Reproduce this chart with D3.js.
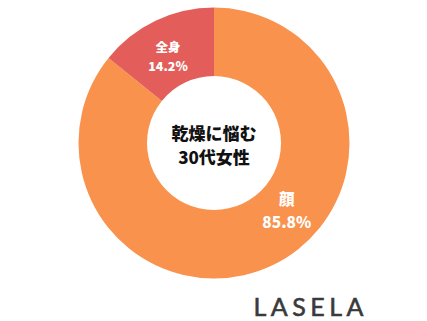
<!DOCTYPE html>
<html>
<head>
<meta charset="utf-8">
<script src="https://cdn.jsdelivr.net/npm/d3@7"></script>
<style>
  body { margin: 0; background: #fff; }
  text { font-family: "Noto Sans CJK JP", "Noto Sans", sans-serif; }
</style>
</head>
<body>
<div id="chart_div"></div>
<script>
// data
const categories = ["顔", "全身"];
const values = [85.8, 14.2];
const colors = ["#F9924D", "#E35E5A"];
const centerLines = ["乾燥に悩む", "30代女性"];
const brand = "LASELA";

const width = 427, height = 321;
const cx = 214, cy = 143;
const outerR = 135.5, innerR = 67;

const svg = d3.select("#chart_div")
  .append("svg")
  .attr("width", width)
  .attr("height", height)
  .attr("viewBox", `0 0 ${width} ${height}`);

const g = svg.append("g")
  .attr("transform", `translate(${cx},${cy})`);

const data = categories.map((c, i) => ({ name: c, value: values[i], color: colors[i] }));

const pie = d3.pie()
  .value(d => d.value)
  .sort(null);

const arc = d3.arc()
  .innerRadius(innerR)
  .outerRadius(outerR);

const arcs = pie(data);

// slices
g.selectAll("path.slice")
  .data(arcs)
  .join("path")
    .attr("class", "slice")
    .attr("d", arc)
    .attr("fill", d => d.data.color);

// slice labels: small slice near its middle, big slice pushed toward lower right
const labelR = 98.5;
const labelAngle = d => d.index === 0 ? 2.31 : (d.startAngle + d.endAngle) / 2 - 0.04;
const labelSize = d => d.index === 0 ? 15.5 : 12.5;

const labels = g.selectAll("g.label")
  .data(arcs)
  .join("g")
    .attr("class", "label")
    .attr("transform", d => {
      const a = labelAngle(d);
      return `translate(${Math.sin(a) * labelR},${-Math.cos(a) * labelR})`;
    });

labels.append("text")
  .attr("text-anchor", "middle")
  .attr("dominant-baseline", "central")
  .attr("y", d => -labelSize(d) * 0.76)
  .attr("fill", "#fff")
  .attr("font-weight", 900)
  .attr("font-size", d => labelSize(d))
  .text(d => d.data.name);

labels.append("text")
  .attr("text-anchor", "middle")
  .attr("dominant-baseline", "central")
  .attr("y", d => labelSize(d) * 0.76)
  .attr("fill", "#fff")
  .attr("font-weight", 900)
  .attr("font-size", d => labelSize(d))
  .text(d => d3.format(".1f")(d.data.value) + "%");

// center title
g.selectAll("text.center")
  .data(centerLines)
  .join("text")
    .attr("class", "center")
    .attr("text-anchor", "middle")
    .attr("dominant-baseline", "central")
    .attr("y", (d, i) => -11 + i * 24)
    .attr("font-size", 17)
    .attr("font-weight", 900)
    .attr("fill", "#111")
    .text(d => d);

// brand logo
svg.append("text")
  .attr("x", 368)
  .attr("y", 316)
  .attr("text-anchor", "end")
  .style("font-family", "Lato, 'Open Sans', sans-serif")
  .attr("font-size", 25)
  .attr("letter-spacing", 4.5)
  .attr("fill", "#3a3a3a")
  .attr("stroke", "#3a3a3a")
  .attr("stroke-width", 0.6)
  .text(brand);
</script>
</body>
</html>
